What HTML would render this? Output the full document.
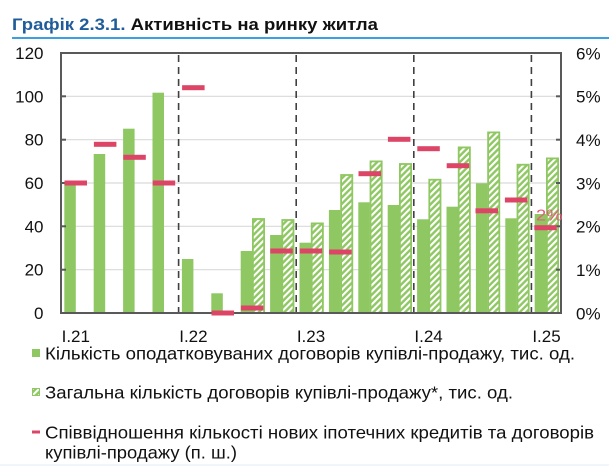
<!DOCTYPE html>
<html><head><meta charset="utf-8"><style>
html,body{margin:0;padding:0;background:#fff;}
svg{display:block;font-family:"Liberation Sans",Arial,sans-serif;}
</style></head><body>
<svg width="616" height="466" viewBox="0 0 616 466" xmlns="http://www.w3.org/2000/svg">
<defs>
<pattern id="h" patternUnits="userSpaceOnUse" width="4.5" height="4.5" patternTransform="rotate(45)">
<rect x="0" y="0" width="4.5" height="4.5" fill="#8fc763"/>
<rect x="0" y="0" width="2.1" height="4.5" fill="#ffffff"/>
</pattern>
</defs>
<rect width="616" height="466" fill="#fff"/>
<!-- title -->
<text x="12" y="30" font-size="16.5" font-weight="bold" textLength="366" lengthAdjust="spacingAndGlyphs"><tspan fill="#1f5c99">Графік 2.3.1.</tspan><tspan fill="#111"> Активність на ринку житла</tspan></text>
<rect x="12" y="37" width="597" height="2" fill="#3aa0e0"/>
<!-- gridlines -->
<g stroke="#d9d9d9" stroke-width="1.2">
<line x1="61" x2="561" y1="269.7" y2="269.7"/>
<line x1="61" x2="561" y1="226.3" y2="226.3"/>
<line x1="61" x2="561" y1="183" y2="183"/>
<line x1="61" x2="561" y1="139.7" y2="139.7"/>
<line x1="61" x2="561" y1="96.3" y2="96.3"/>
</g>
<!-- dashed year separators -->
<g stroke="#404040" stroke-width="1.6" stroke-dasharray="7,5">
<line x1="178.6" x2="178.6" y1="55" y2="313"/>
<line x1="296.2" x2="296.2" y1="55" y2="313"/>
<line x1="413.8" x2="413.8" y1="55" y2="313"/>
<line x1="531.4" x2="531.4" y1="55" y2="313"/>
</g>
<!-- solid bars -->
<g fill="#8fc763">
<rect x="64.3" y="183" width="11.5" height="130"/>
<rect x="93.7" y="154" width="11.5" height="159"/>
<rect x="123.1" y="128.7" width="11.5" height="184.3"/>
<rect x="152.5" y="92.7" width="11.5" height="220.3"/>
<rect x="181.9" y="259" width="11.5" height="54"/>
<rect x="211.3" y="293.3" width="11.5" height="19.7"/>
<rect x="240.7" y="251" width="11.5" height="62"/>
<rect x="270.1" y="235" width="11.5" height="78"/>
<rect x="299.5" y="242.7" width="11.5" height="70.3"/>
<rect x="328.9" y="210" width="11.5" height="103"/>
<rect x="358.3" y="202.3" width="11.5" height="110.7"/>
<rect x="387.7" y="205" width="11.5" height="108"/>
<rect x="417.1" y="219.3" width="11.5" height="93.7"/>
<rect x="446.5" y="206.7" width="11.5" height="106.3"/>
<rect x="475.9" y="183.3" width="11.5" height="129.7"/>
<rect x="505.3" y="218.3" width="11.5" height="94.7"/>
<rect x="534.7" y="214" width="11.5" height="99"/>
</g>
<!-- hatched bars -->
<g fill="url(#h)" stroke="#8fc763" stroke-width="1.8">
<rect x="252.9" y="219" width="11.2" height="94"/>
<rect x="282.3" y="220" width="11.2" height="93"/>
<rect x="311.7" y="223.4" width="11.2" height="89.6"/>
<rect x="341.1" y="175" width="11.2" height="138"/>
<rect x="370.5" y="161.4" width="11.2" height="151.6"/>
<rect x="399.9" y="164" width="11.2" height="149"/>
<rect x="429.3" y="179.7" width="11.2" height="133.3"/>
<rect x="458.7" y="147.4" width="11.2" height="165.6"/>
<rect x="488.1" y="132.4" width="11.2" height="180.6"/>
<rect x="517.5" y="164.7" width="11.2" height="148.3"/>
<rect x="546.9" y="158.4" width="11.2" height="154.6"/>
</g>
<!-- axes/frame -->
<g stroke="#595959" stroke-width="2" fill="none">
<line x1="61" x2="561" y1="53" y2="53"/>
<line x1="61" x2="61" y1="52" y2="314"/>
<line x1="561" x2="561" y1="52" y2="314"/>
<line x1="60" x2="562" y1="313" y2="313"/>
<line x1="61" x2="66" y1="269.7" y2="269.7"/>
<line x1="61" x2="66" y1="226.3" y2="226.3"/>
<line x1="61" x2="66" y1="183" y2="183"/>
<line x1="61" x2="66" y1="139.7" y2="139.7"/>
<line x1="61" x2="66" y1="96.3" y2="96.3"/>
<line x1="556" x2="561" y1="269.7" y2="269.7"/>
<line x1="556" x2="561" y1="226.3" y2="226.3"/>
<line x1="556" x2="561" y1="183" y2="183"/>
<line x1="556" x2="561" y1="139.7" y2="139.7"/>
<line x1="556" x2="561" y1="96.3" y2="96.3"/>
</g>
<!-- red dashes -->
<g fill="#dc4565">
<rect x="64.5" y="180.5" width="22.5" height="5"/>
<rect x="93.9" y="141.8" width="22.5" height="5"/>
<rect x="123.3" y="154.8" width="22.5" height="5"/>
<rect x="152.7" y="180.5" width="22.5" height="5"/>
<rect x="182.1" y="85.2" width="22.5" height="5"/>
<rect x="211.5" y="310.5" width="22.5" height="5"/>
<rect x="240.9" y="305.5" width="22.5" height="5"/>
<rect x="270.3" y="248.5" width="22.5" height="5"/>
<rect x="299.7" y="248.5" width="22.5" height="5"/>
<rect x="329.1" y="249.5" width="22.5" height="5"/>
<rect x="358.5" y="171.2" width="22.5" height="5"/>
<rect x="387.9" y="136.8" width="22.5" height="5"/>
<rect x="417.3" y="146.2" width="22.5" height="5"/>
<rect x="446.7" y="163.2" width="22.5" height="5"/>
<rect x="475.5" y="208.3" width="22.5" height="5"/>
<rect x="504.9" y="197.5" width="22.5" height="5"/>
<rect x="534.3" y="225.2" width="22.5" height="5"/>
</g>
<text x="536" y="220.5" font-size="16" fill="#e35d78" textLength="26.5" lengthAdjust="spacingAndGlyphs">2%</text>
<!-- left axis labels -->
<g font-size="17" fill="#111" text-anchor="end">
<text x="43.5" y="59">120</text>
<text x="43.5" y="102.3">100</text>
<text x="43.5" y="145.7">80</text>
<text x="43.5" y="189">60</text>
<text x="43.5" y="232.3">40</text>
<text x="43.5" y="275.7">20</text>
<text x="43.5" y="319">0</text>
</g>
<!-- right axis labels -->
<g font-size="17" fill="#111">
<text x="576" y="59.3">6%</text>
<text x="576" y="102.6">5%</text>
<text x="576" y="146">4%</text>
<text x="576" y="189.3">3%</text>
<text x="576" y="232.6">2%</text>
<text x="576" y="276">1%</text>
<text x="576" y="319.3">0%</text>
</g>
<!-- x labels -->
<g font-size="17" fill="#111" text-anchor="middle">
<text x="75.8" y="342">I.21</text>
<text x="193.4" y="342">I.22</text>
<text x="311" y="342">I.23</text>
<text x="428.6" y="342">I.24</text>
<text x="546.5" y="342">I.25</text>
</g>
<!-- legend -->
<rect x="32" y="349" width="8" height="8" fill="#8fc763"/>
<rect x="32.5" y="388.5" width="7" height="7" fill="url(#h)" stroke="#8fc763" stroke-width="1"/>
<rect x="32" y="430.5" width="8" height="3" fill="#dc4565"/>
<g font-size="17.5" fill="#111">
<text x="45" y="359.3" textLength="530" lengthAdjust="spacingAndGlyphs">Кількість оподатковуваних договорів купівлі-продажу, тис. од.</text>
<text x="45" y="398.5" textLength="468" lengthAdjust="spacingAndGlyphs">Загальна кількість договорів купівлі-продажу*, тис. од.</text>
<text x="45" y="438.3" textLength="549" lengthAdjust="spacingAndGlyphs">Співвідношення кількості нових іпотечних кредитів та договорів</text>
<text x="45" y="458.3" textLength="192" lengthAdjust="spacingAndGlyphs">купівлі-продажу (п. ш.)</text>
</g>
<rect x="0" y="464.5" width="609" height="1" fill="#e3edf7"/>
</svg>
</body></html>
